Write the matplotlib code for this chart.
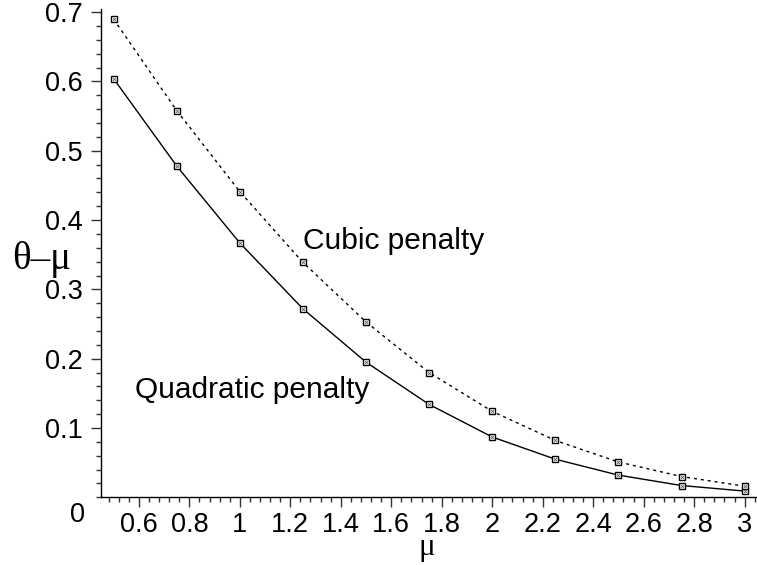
import matplotlib
matplotlib.use("Agg")
import matplotlib.pyplot as plt
from matplotlib.ticker import MultipleLocator, FixedLocator
import numpy as np

mu = [0.5, 0.75, 1.0, 1.25, 1.5, 1.75, 2.0, 2.25, 2.5, 2.75, 3.0]
quadratic = [0.604, 0.478, 0.367, 0.272, 0.195, 0.134, 0.087, 0.055, 0.032, 0.017, 0.009]
cubic = [0.690, 0.558, 0.441, 0.339, 0.253, 0.180, 0.124, 0.082, 0.051, 0.030, 0.016]
xticks = [0.6, 0.8, 1.0, 1.2, 1.4, 1.6, 1.8, 2.0, 2.2, 2.4, 2.6, 2.8, 3.0]
xticklabels = ["0.6", "0.8", "1", "1.2", "1.4", "1.6", "1.8", "2", "2.2", "2.4", "2.6", "2.8", "3"]
yticks = [0.1, 0.2, 0.3, 0.4, 0.5, 0.6, 0.7]
yticklabels = ["0.1", "0.2", "0.3", "0.4", "0.5", "0.6", "0.7"]

plt.rcParams['font.family'] = ['Liberation Sans', 'DejaVu Sans']
plt.rcParams['mathtext.fontset'] = 'custom'
plt.rcParams['mathtext.rm'] = 'Liberation Serif'
plt.rcParams['mathtext.it'] = 'Liberation Serif'

fig = plt.figure(figsize=(7.57, 5.65), dpi=100)
ax = fig.add_axes([0.1334, 0.1198, 0.9987 - 0.1334, 0.9834 - 0.1198])

ax.plot(mu, quadratic, color='black', lw=1.0, marker='s', ms=4.2,
        mfc='white', mec='black', mew=1.0)
ax.plot(mu, cubic, color='black', lw=1.0, linestyle=(0, (2.2, 2.8)), marker='s', ms=4.2,
        mfc='white', mec='black', mew=1.0)
# inner slash of the markers
ax.plot(mu, quadratic, linestyle='none', marker='x', ms=2.0, mec='#555555', mew=0.6)
ax.plot(mu, cubic, linestyle='none', marker='x', ms=2.0, mec='#555555', mew=0.6)

ax.set_xlim(0.45, 3.045)
ax.set_ylim(0, 0.704)

for s in ['top', 'right']:
    ax.spines[s].set_visible(False)
ax.spines['left'].set_linewidth(1.0)
ax.spines['bottom'].set_linewidth(1.0)

ax.xaxis.set_major_locator(FixedLocator(xticks))
ax.set_xticklabels(xticklabels)
ax.xaxis.set_minor_locator(MultipleLocator(0.04))
ax.yaxis.set_major_locator(FixedLocator(yticks))
ax.set_yticklabels(yticklabels)
ax.yaxis.set_minor_locator(MultipleLocator(0.02))

ax.tick_params(axis='both', which='major', direction='out', length=7.2, width=1.0,
               labelsize=19.5, color='#333333')
ax.tick_params(axis='both', which='minor', direction='out', length=3.6, width=1.0,
               color='#333333')
ax.tick_params(axis='y', which='major', pad=6)
ax.tick_params(axis='x', which='major', pad=3.5)

ax.text(-0.024, -0.01, "0", transform=ax.transAxes, ha='right', va='top', fontsize=19.5)

ax.text(1.25, 0.37, "Cubic penalty", fontsize=21.5, ha='left', va='center')
ax.text(0.585, 0.155, "Quadratic penalty", fontsize=21.5, ha='left', va='center')

fig.text(12 / 757, 1 - 259 / 565, "θ–μ", fontsize=28, ha='left', va='center',
         family=['Liberation Serif', 'DejaVu Serif'])
fig.text(427 / 757, 1 - 564 / 565, r"$\mathrm{\mu}$", fontsize=22.5, ha='center', va='bottom')

fig.savefig("out.png", dpi=100)
